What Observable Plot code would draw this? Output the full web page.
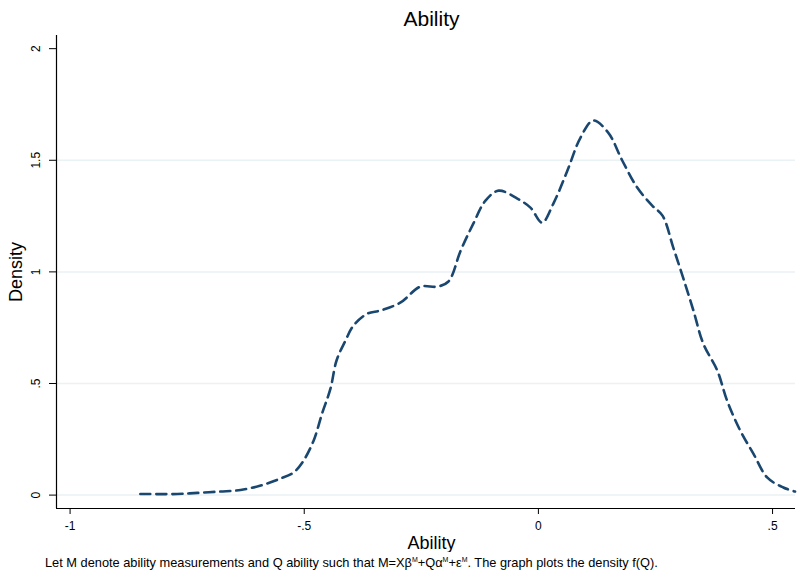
<!DOCTYPE html>
<html><head><meta charset="utf-8">
<script src="https://cdn.jsdelivr.net/npm/d3@7"></script>
<script src="https://cdn.jsdelivr.net/npm/@observablehq/plot@0.6"></script>
<style>
body{margin:0;background:#fff;font-family:"Liberation Sans",Arial,sans-serif;color:#000}
#title{height:30px;line-height:37px;text-align:center;padding-left:62px;padding-right:0px;font-size:21px;box-sizing:border-box;width:801px;overflow:visible;white-space:nowrap}
#chart svg{display:block}
#caption{height:21px;line-height:21px;font-size:12.8px;padding-left:45px;white-space:nowrap}
#caption sup{font-size:7px;vertical-align:0;position:relative;top:-5px}
</style>
</head><body>
<div id="title">Ability</div>
<div id="chart"></div>
<div id="caption">Let M denote ability measurements and Q ability such that M=Xβ<sup>M</sup>+Qα<sup>M</sup>+ε<sup>M</sup>. The graph plots the density f(Q).</div>
<script>
const abilityX = [-0.850,-0.771,-0.728,-0.679,-0.636,-0.593,-0.551,-0.523,-0.504,-0.480,-0.462,-0.444,-0.431,-0.412,-0.395,-0.365,-0.337,-0.295,-0.252,-0.216,-0.192,-0.166,-0.139,-0.113,-0.085,-0.045,-0.017,0.008,0.032,0.062,0.090,0.117,0.149,0.179,0.211,0.243,0.265,0.288,0.309,0.331,0.352,0.382,0.403,0.431,0.459,0.489,0.523,0.548];
const densityY = [0.005,0.005,0.010,0.016,0.023,0.043,0.074,0.101,0.146,0.244,0.365,0.477,0.603,0.692,0.759,0.813,0.827,0.862,0.934,0.934,0.957,1.095,1.216,1.319,1.364,1.328,1.288,1.221,1.306,1.454,1.602,1.678,1.624,1.499,1.378,1.297,1.252,1.109,0.974,0.827,0.679,0.558,0.423,0.289,0.186,0.078,0.034,0.016];
const xTicks = [-1,-0.5,0,0.5];
const xTickLabels = ["-1","-.5","0",".5"];
const yTicks = [0,0.5,1,1.5,2];
const yTickLabels = ["0",".5","1","1.5","2"];
const gridY = [0,0.5,1,1.5];
const xDomain = [-1.029,0.549];
const yDomain = [-0.06,2.059];

const data = abilityX.map((x,i)=>({x, y: densityY[i]}));
const yt = yTicks.map((v,i)=>({v, label: yTickLabels[i]}));

const chart = Plot.plot({
  width: 801, height: 522,
  marginLeft: 56, marginRight: 6, marginTop: 5, marginBottom: 44,
  style: {fontFamily: '"Liberation Sans", Arial, sans-serif', color: "#000", background: "#fff"},
  x: {domain: xDomain},
  y: {domain: yDomain},
  marks: [
    Plot.ruleY(gridY, {stroke: "#eaf2f3", strokeWidth: 1.5}),
    Plot.ruleX([xDomain[0]], {stroke: "#000", strokeWidth: 1.2}),
    Plot.ruleY([yDomain[0]], {stroke: "#000", strokeWidth: 1.2}),
    Plot.axisX({ticks: xTicks, tickFormat: (d)=>xTickLabels[xTicks.indexOf(d)], tickSize: 6, tickPadding: 7, fontSize: 12, label: null, stroke: "#000"}),
    Plot.axisY({ticks: yTicks, tickFormat: null, text: null, tickSize: 7, label: null, stroke: "#000"}),
    Plot.text(yt, {x: xDomain[0], y: "v", text: "label", rotate: -90, dx: -20.5, fontSize: 12, fill: "#000"}),
    Plot.text(["Density"], {frameAnchor: "left", textAnchor: "middle", lineAnchor: "middle", dx: -40, rotate: -90, fontSize: 18, fill: "#000"}),
    Plot.text(["Ability"], {frameAnchor: "bottom", textAnchor: "middle", lineAnchor: "middle", dx: 5.5, dy: 35, fontSize: 18, fill: "#000"}),
    Plot.line(data, {x: "x", y: "y", stroke: "#1a476f", strokeWidth: 2.6, strokeDasharray: "10,6", curve: "catmull-rom"})
  ]
});
document.getElementById("chart").appendChild(chart);
</script>
</body></html>
